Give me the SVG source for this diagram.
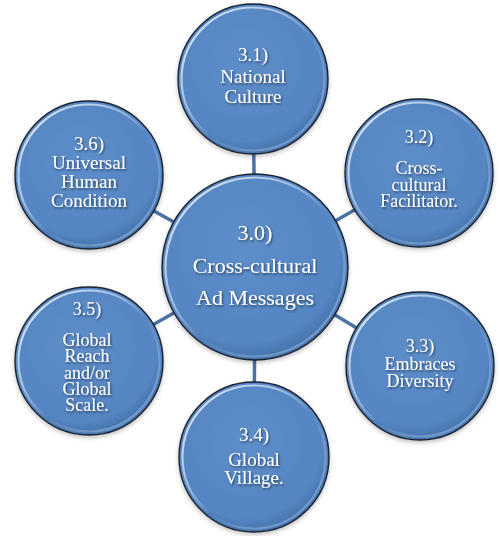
<svg xmlns="http://www.w3.org/2000/svg" width="500" height="536" viewBox="0 0 500 536">
<defs>
<radialGradient id="fillG" cx="0.45" cy="0.4" r="0.6">
<stop offset="0" stop-color="#5d8eca"/>
<stop offset="0.85" stop-color="#5585c2"/>
<stop offset="1" stop-color="#4473ac"/>
</radialGradient>
<linearGradient id="rimG" x1="0" y1="0" x2="1" y2="1">
<stop offset="0" stop-color="#ffffff" stop-opacity="0.9"/>
<stop offset="0.35" stop-color="#dbe8f7" stop-opacity="0.6"/>
<stop offset="0.55" stop-color="#ffffff" stop-opacity="0"/>
<stop offset="0.85" stop-color="#9fbfe6" stop-opacity="0.5"/>
<stop offset="1" stop-color="#c8dcf2" stop-opacity="0.7"/>
</linearGradient>
<filter id="ts" x="-20%" y="-20%" width="140%" height="160%">
<feDropShadow dx="1" dy="1.5" stdDeviation="1" flood-color="#000" flood-opacity="0.55"/>
</filter>
<filter id="cs" x="-20%" y="-20%" width="140%" height="140%">
<feDropShadow dx="0" dy="2" stdDeviation="2" flood-color="#000" flood-opacity="0.25"/>
</filter>
</defs>
<style>
.disc{fill:url(#fillG);stroke:#1b2433;stroke-width:1.4;}
.rim{fill:none;stroke:url(#rimG);stroke-width:2.2;}
text{font-family:'Liberation Serif','DejaVu Serif','Times New Roman',serif;font-size:19px;fill:#ffffff;text-anchor:middle;filter:url(#ts);}
text.big{font-size:22px;}
text.sm{font-size:18px;}
.conn line{stroke:#4a72a3;stroke-width:3.5;}
</style>
<g id="connectors" class="conn">
<line x1="255" y1="267" x2="253" y2="79"/>
<line x1="255" y1="267" x2="419" y2="173"/>
<line x1="255" y1="267" x2="420" y2="366"/>
<line x1="255" y1="267" x2="254" y2="457"/>
<line x1="255" y1="267" x2="89" y2="361"/>
<line x1="255" y1="267" x2="89" y2="175"/>
</g>
<g id="node-3-0" font-family="Liberation Serif, serif">
<circle class="disc" cx="255" cy="267" r="93" filter="url(#cs)"/>
<circle class="rim" cx="255" cy="267" r="89.5"/>
<text class="big" x="255" y="240">3.0)</text>
<text class="big" x="255" y="273">Cross-cultural</text>
<text class="big" x="255" y="305">Ad Messages</text>
</g>
<g id="node-3-1">
<circle class="disc" cx="253" cy="79" r="75" filter="url(#cs)"/>
<circle class="rim" cx="253" cy="79" r="71.5"/>
<text x="253" y="61">3.1)</text>
<text x="253" y="83">National</text>
<text x="253" y="103">Culture</text>
</g>
<g id="node-3-2">
<circle class="disc" cx="419" cy="173" r="74" filter="url(#cs)"/>
<circle class="rim" cx="419" cy="173" r="70.5"/>
<text class="sm" x="419" y="143">3.2)</text>
<text class="sm" x="419" y="174">Cross-</text>
<text class="sm" x="419" y="190.5">cultural</text>
<text class="sm" x="419" y="207">Facilitator.</text>
</g>
<g id="node-3-3">
<circle class="disc" cx="420" cy="366" r="74" filter="url(#cs)"/>
<circle class="rim" cx="420" cy="366" r="70.5"/>
<text class="sm" x="420" y="352">3.3)</text>
<text class="sm" x="420" y="369.5">Embraces</text>
<text class="sm" x="420" y="387">Diversity</text>
</g>
<g id="node-3-4">
<circle class="disc" cx="254" cy="457" r="75" filter="url(#cs)"/>
<circle class="rim" cx="254" cy="457" r="71.5"/>
<text x="254" y="441">3.4)</text>
<text x="254" y="466">Global</text>
<text x="254" y="484">Village.</text>
</g>
<g id="node-3-5">
<circle class="disc" cx="89" cy="361" r="74" filter="url(#cs)"/>
<circle class="rim" cx="89" cy="361" r="70.5"/>
<text class="sm" x="87" y="315">3.5)</text>
<text class="sm" x="87" y="346">Global</text>
<text class="sm" x="87" y="362">Reach</text>
<text class="sm" x="87" y="378.5">and/or</text>
<text class="sm" x="87" y="395">Global</text>
<text class="sm" x="87" y="411">Scale.</text>
</g>
<g id="node-3-6">
<circle class="disc" cx="89" cy="175" r="74" filter="url(#cs)"/>
<circle class="rim" cx="89" cy="175" r="70.5"/>
<text x="89" y="150">3.6)</text>
<text x="89" y="168.5">Universal</text>
<text x="89" y="187.5">Human</text>
<text x="89" y="207">Condition</text>
</g>
</svg>
